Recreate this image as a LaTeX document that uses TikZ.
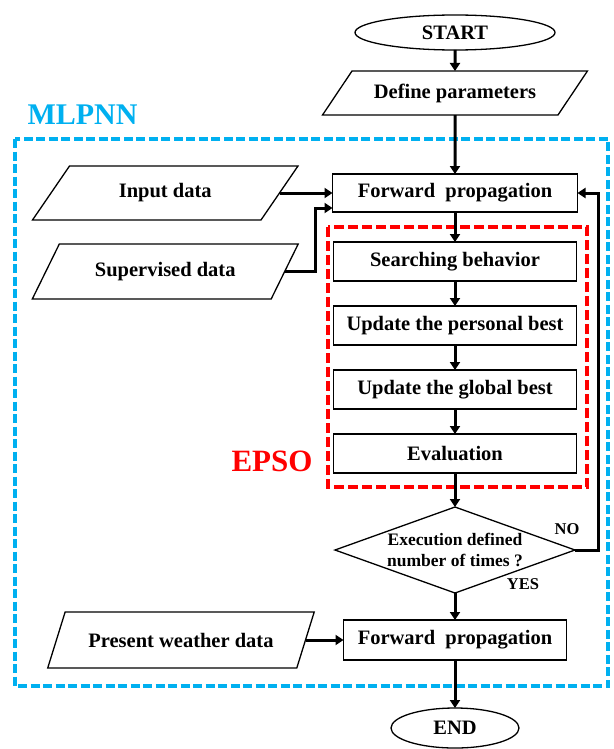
\documentclass[tikz,border=0pt]{standalone}
\usepackage{fontspec}
\setmainfont{Liberation Serif}
\usetikzlibrary{arrows.meta,positioning,shapes.geometric}
\definecolor{mlpblue}{HTML}{00B0F0}

\begin{document}
\begin{tikzpicture}[x=1pt, y=1pt, node distance=25pt, font=\fontsize{20.5}{24}\selectfont\bfseries, box/.style={draw, line width=1.3pt, outer sep=0pt, minimum width=243pt, minimum height=39pt, inner sep=2pt}, io/.style={draw, line width=1.3pt, outer sep=0pt, trapezium, trapezium left angle=46, trapezium right angle=134, trapezium stretches=true, inner sep=0pt, minimum width=266pt, minimum height=55pt}, term/.style={draw, line width=1.3pt, outer sep=0pt, ellipse, minimum width=200pt, minimum height=35pt}, cond/.style={draw, line width=1.3pt, outer sep=0pt, diamond, aspect=2.8, minimum width=240pt, minimum height=86pt, inner sep=0pt, align=center, font=\fontsize{17.5}{21}\selectfont\bfseries}, arr/.style={-{Triangle[length=8pt,width=10pt]}, line width=3pt}, zone/.style={dashed, line width=3.6pt}, tag/.style={font=\fontsize{16.5}{18}\selectfont\bfseries}]
\useasboundingbox (0,0) rectangle (613,-749);
\draw[zone, mlpblue, dash pattern=on 9pt off 3.5pt] (15,-139) rectangle (608,-686);
\draw[zone, red, dash pattern=on 10pt off 4pt] (328,-227) rectangle (587,-487);
\node[term] (start) at (455,-32.5) {START};
\node[io, below=21pt of start, trapezium left angle=39, trapezium right angle=141, minimum width=265pt, minimum height=44pt] (define) {Define parameters};
\node[box, below=59pt of define, minimum width=245pt, minimum height=38pt] (fwd) {Forward\ \ propagation};
\node[box, below=30pt of fwd] (search) {Searching behavior};
\node[box, below=of search] (pbest) {Update the personal best};
\node[box, below=of pbest] (gbest) {Update the global best};
\node[box, below=of gbest] (evalu) {Evaluation};
\node[cond, below=34pt of evalu] (check) {Execution defined\\number of times ?};
\node[box, below=27pt of check, minimum width=223pt, minimum height=40pt] (fwdout) {Forward\ \ propagation};
\node[term, below=48pt of fwdout, minimum width=128pt, minimum height=40pt] (stop) {END};
\node[io, left=53pt of fwd, minimum height=54pt] (input) {Input data};
\node[io, below=24pt of input] (super) {Supervised data};
\node[io, left=38pt of fwdout, minimum width=267pt, minimum height=56pt] (weather) {Present weather data};
\node[mlpblue, anchor=west, font=\fontsize{30}{32}\selectfont\bfseries] (mlp) at (24,-115) {MLPNN};
\node[red, font=\fontsize{31}{33}\selectfont\bfseries] (epso) at (272,-461) {EPSO};
\node[tag] (no) at (567,-529) {NO};
\node[tag] (yes) at (523,-584) {YES};
\draw[arr] (start) -- (define);
\draw[arr] (define) -- (fwd);
\foreach \a/\b in {fwd/search,search/pbest,pbest/gbest,gbest/evalu,evalu/check,check/fwdout,fwdout/stop}{\draw[arr] (\a)--(\b);}
\draw[arr] (input.east) -- (fwd.west |- input.east);
\draw[arr] (super.east) -- ++(31pt,0) |- ([yshift=4pt]fwd.south west);
\draw[arr] (check.east) -- ++(23pt,0) |- (fwd.east);
\draw[arr] (weather.east) -- (fwdout.west);
\end{tikzpicture}
\end{document}
